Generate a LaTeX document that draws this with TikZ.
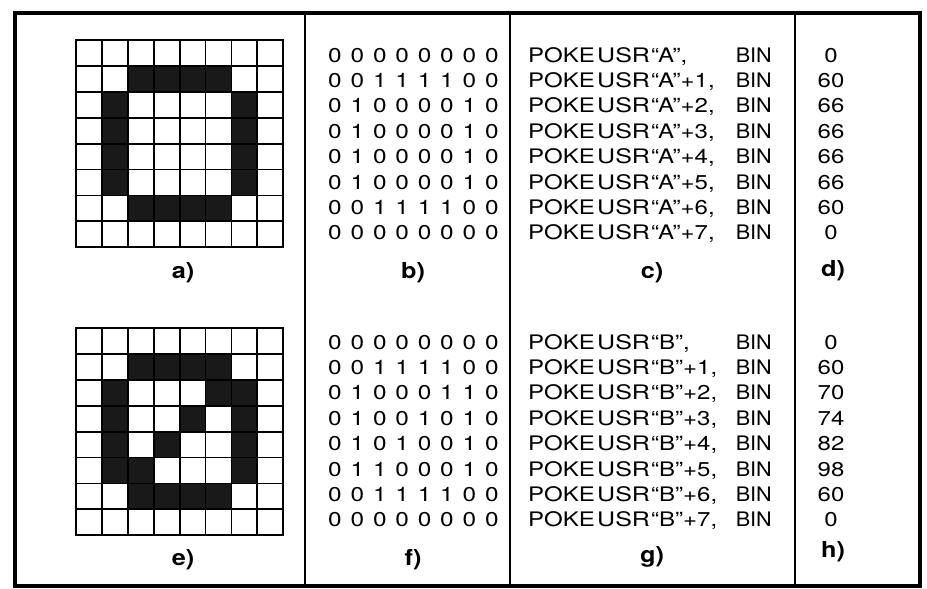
\documentclass[tikz,border=0pt]{standalone}
\usepackage{fontspec}
\setmainfont{TeX Gyre Heros}
\usepackage{graphicx}
\newcommand\stretchtxt[2]{\scalebox{#1}[1]{#2}}
\tikzset{
  cellfill/.style={fill=black!90, draw=none},
  gridline/.style={line width=1.8pt, line cap=rect},
  framebox/.style={line width=3.2pt},
  divider/.style={line width=2pt},
  txt/.style={inner sep=0pt, font=\fontsize{20}{22}\selectfont},
  lab/.style={inner sep=0pt, font=\fontsize{22}{24}\selectfont\bfseries},
}
\begin{document}
\begin{tikzpicture}[x=1pt,y=-1pt]
\useasboundingbox (0,0) rectangle (927,589);
\fill[white] (0,0) rectangle (927,589);
% frame and dividers
\draw[framebox] (15,13) rectangle (920,586);
\draw[divider] (305,15) -- (305,586);
\draw[divider] (510,15) -- (510,586);
\draw[divider] (795,15) -- (795,586);
\def\cs{25.9}
% ---------- top half: pattern A ----------
\foreach \row [count=\r from 0] in {{0,0,0,0,0,0,0,0},{0,0,1,1,1,1,0,0},{0,1,0,0,0,0,1,0},{0,1,0,0,0,0,1,0},{0,1,0,0,0,0,1,0},{0,1,0,0,0,0,1,0},{0,0,1,1,1,1,0,0},{0,0,0,0,0,0,0,0}}{
  \foreach \d [count=\c from 0] in \row {
    \ifnum\d=1
      \fill[cellfill] ({76+\c*\cs},{40+\r*\cs}) rectangle ({76+(\c+1)*\cs},{40+(\r+1)*\cs});
    \fi
    \node[txt, anchor=base] (bA\r\c) at ({335+\c*22.4},{62+\r*25.4}) {\stretchtxt{1.22}{\d}};
  }
}
\foreach \i in {0,...,8}{
  \draw[gridline] ({76+\i*\cs},40) -- ({76+\i*\cs},{40+8*\cs});
  \draw[gridline] (76,{40+\i*\cs}) -- ({76+8*\cs},{40+\i*\cs});
}
\foreach \v [count=\k from 0] in {0,60,66,66,66,66,60,0}{
  \node[txt, anchor=base west] (pkA\k) at (528,{62+\k*25.4}) {\stretchtxt{1.2}{POKE}};
  \node[txt, anchor=base west] (usA\k) at (597,{62+\k*25.4}) {\stretchtxt{1.25}{USR}};
  \node[txt, anchor=base west] (arA\k) at (651,{62+\k*25.4}) {\stretchtxt{1.2}{“A”\ifnum\k>0 +\k\fi,}};
  \node[txt, anchor=base east] (bnA\k) at (772,{62+\k*25.4}) {\stretchtxt{1.08}{BIN}};
  \node[txt, anchor=base] (dvA\k) at (831,{62+\k*25.4}) {\stretchtxt{1.2}{\v}};
}
\node[lab] (la) at (183,273) {\stretchtxt{1.15}{a)}};
\node[lab] (lb) at (413,273) {\stretchtxt{1.15}{b)}};
\node[lab] (lc) at (652,273) {\stretchtxt{1.15}{c)}};
\node[lab] (ld) at (833,271) {\stretchtxt{1.15}{d)}};
% ---------- bottom half: pattern B ----------
\foreach \row [count=\r from 0] in {{0,0,0,0,0,0,0,0},{0,0,1,1,1,1,0,0},{0,1,0,0,0,1,1,0},{0,1,0,0,1,0,1,0},{0,1,0,1,0,0,1,0},{0,1,1,0,0,0,1,0},{0,0,1,1,1,1,0,0},{0,0,0,0,0,0,0,0}}{
  \foreach \d [count=\c from 0] in \row {
    \ifnum\d=1
      \fill[cellfill] ({76+\c*\cs},{328+\r*\cs}) rectangle ({76+(\c+1)*\cs},{328+(\r+1)*\cs});
    \fi
    \node[txt, anchor=base] (bB\r\c) at ({335+\c*22.4},{349+\r*25.4}) {\stretchtxt{1.22}{\d}};
  }
}
\foreach \i in {0,...,8}{
  \draw[gridline] ({76+\i*\cs},328) -- ({76+\i*\cs},{328+8*\cs});
  \draw[gridline] (76,{328+\i*\cs}) -- ({76+8*\cs},{328+\i*\cs});
}
\foreach \v [count=\k from 0] in {0,60,70,74,82,98,60,0}{
  \node[txt, anchor=base west] (pkB\k) at (528,{349+\k*25.4}) {\stretchtxt{1.2}{POKE}};
  \node[txt, anchor=base west] (usB\k) at (597,{349+\k*25.4}) {\stretchtxt{1.25}{USR}};
  \node[txt, anchor=base west] (arB\k) at (651,{349+\k*25.4}) {\stretchtxt{1.2}{“B”\ifnum\k>0 +\k\fi,}};
  \node[txt, anchor=base east] (bnB\k) at (772,{349+\k*25.4}) {\stretchtxt{1.08}{BIN}};
  \node[txt, anchor=base] (dvB\k) at (831,{349+\k*25.4}) {\stretchtxt{1.2}{\v}};
}
\node[lab] (le) at (183,560) {\stretchtxt{1.15}{e)}};
\node[lab] (lf) at (413,560) {\stretchtxt{1.15}{f)}};
\node[lab] (lg) at (652,557) {\stretchtxt{1.15}{g)}};
\node[lab] (lh) at (833,552) {\stretchtxt{1.15}{h)}};
\end{tikzpicture}
\end{document}
